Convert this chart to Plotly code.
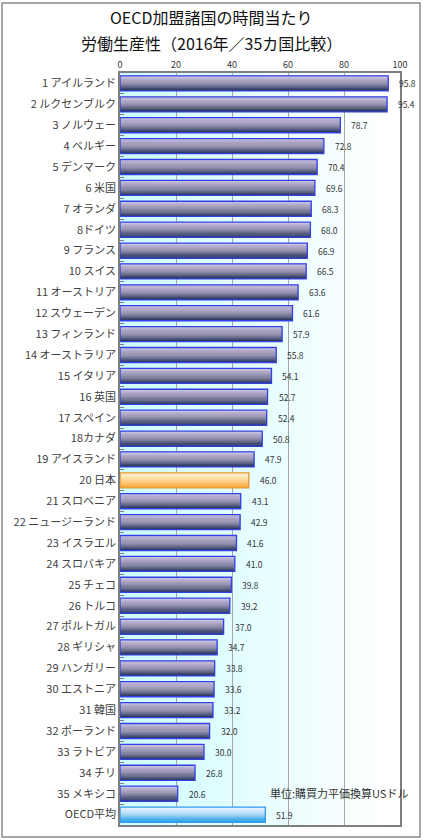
import plotly.graph_objects as go
import numpy as np

# data
countries = ["1 アイルランド", "2 ルクセンブルク", "3 ノルウェー", "4 ベルギー", "5 デンマーク",
             "6 米国", "7 オランダ", "8ドイツ", "9 フランス", "10 スイス",
             "11 オーストリア", "12 スウェーデン", "13 フィンランド", "14 オーストラリア", "15 イタリア",
             "16 英国", "17 スペイン", "18カナダ", "19 アイスランド", "20 日本",
             "21 スロベニア", "22 ニュージーランド", "23 イスラエル", "24 スロバキア", "25 チェコ",
             "26 トルコ", "27 ポルトガル", "28 ギリシャ", "29 ハンガリー", "30 エストニア",
             "31 韓国", "32 ポーランド", "33 ラトビア", "34 チリ", "35 メキシコ", "OECD平均"]
values = [95.8, 95.4, 78.7, 72.8, 70.4, 69.6, 68.3, 68.0, 66.9, 66.5,
          63.6, 61.6, 57.9, 55.8, 54.1, 52.7, 52.4, 50.8, 47.9, 46.0,
          43.1, 42.9, 41.6, 41.0, 39.8, 39.2, 37.0, 34.7, 33.8, 33.6,
          33.2, 32.0, 30.0, 26.8, 20.6, 51.9]
x_ticks = [0, 20, 40, 60, 80, 100]

title_lines = ["OECD加盟諸国の時間当たり", "労働生産性（2016年／35カ国比較）"]
unit_note = "単位:購買力平価換算USドル"

FONT = "Noto Sans CJK JP"

# plot area in pixels: x 120..400, y 73..825
def px_x(p):
    return (p - 120) / 280

def px_y(p):
    return (825 - p) / 752

# gradient stops (top -> bottom of each bar)
grad = {
    "normal": [(0.0, (218, 212, 232)), (0.2, (184, 176, 208)), (0.55, (148, 143, 174)),
               (0.8, (92, 98, 132)), (1.0, (40, 52, 86))],
    "japan": [(0.0, (255, 246, 224)), (0.5, (255, 214, 150)), (1.0, (248, 170, 60))],
    "oecd": [(0.0, (236, 246, 255)), (0.5, (178, 220, 246)), (1.0, (40, 160, 232))],
}
outline = {"normal": "#3340e8", "japan": "#e09a30", "oecd": "#3399ee"}

def kind(name):
    if "日本" in name:
        return "japan"
    if "OECD" in name:
        return "oecd"
    return "normal"

def grad_color(stops, t):
    for (t0, c0), (t1, c1) in zip(stops[:-1], stops[1:]):
        if t <= t1:
            f = (t - t0) / (t1 - t0)
            c = [round(a + (b - a) * f) for a, b in zip(c0, c1)]
            return f"rgb({c[0]},{c[1]},{c[2]})"
    c = stops[-1][1]
    return f"rgb({c[0]},{c[1]},{c[2]})"

kinds = [kind(c) for c in countries]

fig = go.Figure()

bw = 0.72
n_stripes = 14
for i in range(n_stripes):
    t = (i + 0.5) / n_stripes
    fig.add_trace(go.Bar(
        x=values, y=countries, orientation="h",
        width=bw / n_stripes,
        offset=-bw / 2 + i * bw / n_stripes,
        marker=dict(color=[grad_color(grad[k], t) for k in kinds], line=dict(width=0)),
        hoverinfo="skip", showlegend=False,
    ))

# outline
fig.add_trace(go.Bar(
    x=values, y=countries, orientation="h",
    width=bw, offset=-bw / 2,
    marker=dict(color="rgba(0,0,0,0)", line=dict(color=[outline[k] for k in kinds], width=1.3)),
    hovertemplate="%{y}: %{x:.1f}<extra></extra>", showlegend=False,
))

# value labels
for c, v in zip(countries, values):
    fig.add_annotation(x=v, y=c, text=f"{v:.1f}", showarrow=False,
                       xanchor="left", xshift=9, font=dict(size=8.5, color="#333333", family=FONT))

# plot background gradient (light cyan -> white)
shapes = []
steps = 40
for k in range(steps):
    x0 = 100 * k / steps
    x1 = 100 * (k + 1) / steps
    f = min(1.0, (k + 0.5) / steps / 0.95)
    r = round(204 + (255 - 204) * f)
    g = round(252 + (255 - 252) * f)
    shapes.append(dict(type="rect", xref="x", yref="y domain", x0=x0, x1=x1, y0=0, y1=1,
                       fillcolor=f"rgb({r},{g},255)", line=dict(width=0), layer="below"))

# outer frame
shapes.append(dict(type="rect", xref="paper", yref="paper",
                   x0=px_x(2), x1=px_x(420), y0=px_y(837), y1=px_y(3),
                   line=dict(color="#8a8a8a", width=1.5), fillcolor="rgba(0,0,0,0)"))

# title (two lines)
for text, ypx in zip(title_lines, [17, 43]):
    fig.add_annotation(x=px_x(211), y=px_y(ypx), xref="paper", yref="paper",
                       text=text, showarrow=False, xanchor="center", yanchor="middle",
                       font=dict(size=16, color="#111111", family=FONT))

fig.add_annotation(x=px_x(268), y=px_y(793), xref="paper", yref="paper",
                   text=unit_note, showarrow=False, xanchor="left", yanchor="middle",
                   font=dict(size=11, color="#333333", family=FONT))

fig.update_layout(
    width=423, height=840,
    margin=dict(l=120, r=23, t=73, b=15),
    barmode="overlay",
    paper_bgcolor="white",
    plot_bgcolor="white",
    font=dict(family=FONT, color="#333333"),
    shapes=shapes,
    xaxis=dict(side="top", range=[0, 100], tickvals=x_ticks, ticks="", automargin=False,
               showgrid=True, gridcolor="#a6a6a6", gridwidth=1,
               showline=True, mirror=True, linecolor="#7f7f7f", linewidth=1.5,
               tickfont=dict(size=9, color="#333333"), zeroline=False, fixedrange=True),
    yaxis=dict(autorange="reversed", ticks="inside", tickson="boundaries", ticklen=4,
               automargin=False,
               tickcolor="#7f7f7f", showline=True, mirror=True, linecolor="#7f7f7f",
               linewidth=1.5, tickfont=dict(size=11, color="#404040"), fixedrange=True),
)

# page body has a default 8px margin; remove it so the figure sits at the window's corner
fig.write_html("out.html", config={"displayModeBar": False},
               post_script="document.body.style.margin='0px';")
